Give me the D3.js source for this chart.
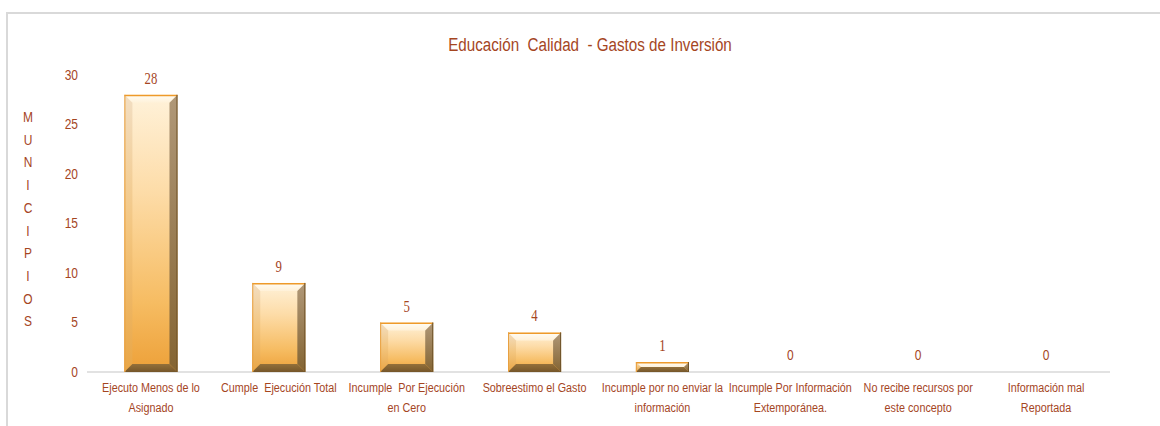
<!DOCTYPE html>
<html>
<head>
<meta charset="utf-8">
<title>Educación Calidad - Gastos de Inversión</title>
<script src="https://cdn.jsdelivr.net/npm/d3@7"></script>
<style>
    body { margin: 0; background: #fff; }
    text { font-family: "Liberation Sans", Arial, sans-serif; }
    text.serif { font-family: "Liberation Serif", "Times New Roman", serif; }
</style>
</head>
<body>
<script>
    var categories = [
        'Ejecuto Menos de lo\nAsignado',
        'Cumple  Ejecución Total',
        'Incumple  Por Ejecución\nen Cero',
        'Sobreestimo el Gasto',
        'Incumple por no enviar la\ninformación',
        'Incumple Por Información\nExtemporánea.',
        'No recibe recursos por\neste concepto',
        'Información mal\nReportada'
    ];
    var values = [28, 9, 5, 4, 1, 0, 0, 0];
    var yTicks = [0, 5, 10, 15, 20, 25, 30];
    var titleText = 'Educación  Calidad  - Gastos de Inversión';
    var yTitle = 'MUNICIPIOS';

    var width = 1160, height = 426;
    var textColor = '#A5461F';
    var narrow = 0.8; // simula Arial Narrow
    var margin = {top: 75, right: 50, bottom: 54, left: 87};

    var svg = d3.select('body').append('svg').attr('width', width).attr('height', height);

    // marco del grafico
    svg.append('path')
        .attr('d', 'M7,426 V13 H1160')
        .attr('fill', 'none')
        .attr('stroke', '#d9d9d9')
        .attr('stroke-width', 2);

    var x = d3.scaleBand().domain(d3.range(categories.length))
        .range([margin.left, width - margin.right]).paddingInner(0.585).paddingOuter(0.2925);
    var y = d3.scaleLinear().domain([0, 30]).range([height - margin.bottom, margin.top]);

    function tr(px, py) {
        return 'translate(' + px + ',' + py + ') scale(' + narrow + ',1)';
    }

    // gradientes
    var defs = svg.append('defs');
    function grad(id, stops) {
        var g = defs.append('linearGradient').attr('id', id)
            .attr('x1', 0).attr('y1', 0).attr('x2', 0).attr('y2', 1);
        stops.forEach(function (s) {
            g.append('stop').attr('offset', s[0]).attr('stop-color', s[1]);
        });
    }
    grad('face', [[0, '#FFF2DA'], [0.35, '#FDDCA8'], [0.75, '#F6BC62'], [1, '#EDA038']]);
    grad('bevTop', [[0, '#FFFDF6'], [1, '#FFF1D8']]);
    grad('bevLeft', [[0, '#F2DEC2'], [0.5, '#F3C57E'], [1, '#E9A646']]);
    grad('bevRight', [[0, '#B09878'], [1, '#846432']]);
    grad('bevBot', [[0, '#94703A'], [1, '#75562A']]);

    // titulo
    svg.append('text')
        .attr('transform', tr(590, 51))
        .attr('text-anchor', 'middle')
        .attr('font-size', 19)
        .attr('fill', textColor)
        .style('white-space', 'pre')
        .text(titleText);

    // titulo eje y, letras apiladas
    svg.append('g').selectAll('text').data(yTitle.split(''))
        .enter().append('text')
        .attr('transform', function (d, i) { return tr(28, 122 + i * 22.7); })
        .attr('text-anchor', 'middle')
        .attr('font-size', 15)
        .attr('fill', textColor)
        .text(function (d) { return d; });

    // eje y (solo etiquetas)
    var yAxis = svg.append('g')
        .call(d3.axisLeft(y).tickValues(yTicks).tickSize(0).tickPadding(0));
    yAxis.select('.domain').remove();
    yAxis.selectAll('.tick').attr('transform', function (d) { return tr(78, y(d)); });
    yAxis.selectAll('text').attr('font-size', 15).attr('fill', textColor);

    // linea base
    svg.append('line')
        .attr('x1', margin.left).attr('x2', width - margin.right)
        .attr('y1', y(0)).attr('y2', y(0))
        .attr('stroke', '#d9d9d9').attr('stroke-width', 1.5);

    // barras con bisel
    values.forEach(function (d, i) {
        if (d <= 0) return;
        var g = svg.append('g').attr('class', 'bar');
        var x0 = x(i), w = x.bandwidth();
        var y0 = y(d), y1 = y(0), h = y1 - y0;
        var b = Math.min(8, h / 2);
        var x1 = x0 + w;
        g.append('rect').attr('x', x0).attr('y', y0).attr('width', w).attr('height', h).attr('fill', 'url(#face)');
        g.append('polygon').attr('points', [[x0, y0], [x1, y0], [x1 - b, y0 + b], [x0 + b, y0 + b]].join(' '))
            .attr('fill', 'url(#bevTop)');
        g.append('polygon').attr('points', [[x0, y0], [x0 + b, y0 + b], [x0 + b, y1 - b], [x0, y1]].join(' '))
            .attr('fill', 'url(#bevLeft)');
        g.append('polygon').attr('points', [[x1, y0], [x1, y1], [x1 - b, y1 - b], [x1 - b, y0 + b]].join(' '))
            .attr('fill', 'url(#bevRight)');
        g.append('polygon').attr('points', [[x0, y1], [x0 + b, y1 - b], [x1 - b, y1 - b], [x1, y1]].join(' '))
            .attr('fill', 'url(#bevBot)');
        // contorno
        g.append('line').attr('x1', x0).attr('x2', x1).attr('y1', y0 + 0.75).attr('y2', y0 + 0.75)
            .attr('stroke', '#EE9A2A').attr('stroke-width', 1.5);
        g.append('line').attr('x1', x0 + 0.5).attr('x2', x0 + 0.5).attr('y1', y0).attr('y2', y1)
            .attr('stroke', '#E8A040').attr('stroke-width', 1);
        g.append('line').attr('x1', x1 - 0.5).attr('x2', x1 - 0.5).attr('y1', y0).attr('y2', y1)
            .attr('stroke', '#6E5228').attr('stroke-width', 1);
    });

    // etiquetas de datos
    svg.append('g').selectAll('text').data(values).enter().append('text')
        .attr('class', function (d) { return d > 0 ? 'serif' : null; })
        .attr('transform', function (d, i) {
            return tr(x(i) + x.bandwidth() / 2, d > 0 ? y(d) - 11 : y(0) - 12);
        })
        .attr('text-anchor', 'middle')
        .attr('font-size', function (d) { return d > 0 ? 16 : 15; })
        .attr('fill', textColor)
        .text(function (d) { return d; });

    // etiquetas de categorias
    var cat = svg.append('g').selectAll('text').data(categories).enter().append('text')
        .attr('text-anchor', 'middle')
        .attr('font-size', 13.5)
        .attr('fill', textColor)
        .style('white-space', 'pre')
        .attr('transform', function (d, i) {
            return tr(x(i) + x.bandwidth() / 2, y(0) + 20);
        });
    cat.selectAll('tspan').data(function (d) { return d.split('\n'); })
        .enter().append('tspan')
        .attr('x', 0)
        .attr('dy', function (d, i) { return i === 0 ? 0 : 20; })
        .text(function (d) { return d; });
</script>
</body>
</html>
